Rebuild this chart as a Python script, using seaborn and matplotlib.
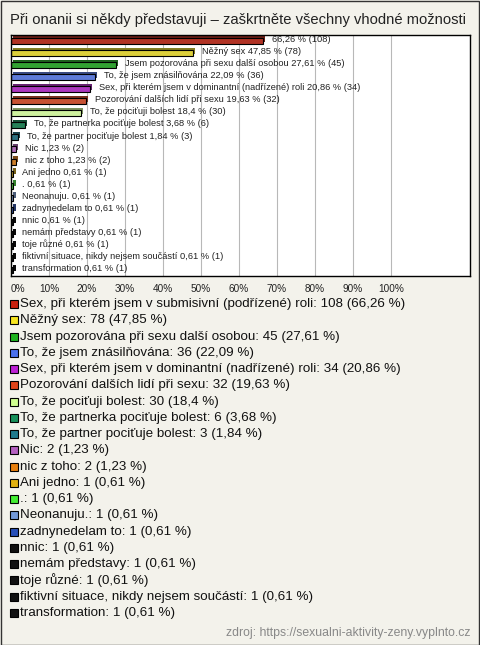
import numpy as np
import pandas as pd
import matplotlib
matplotlib.use("Agg")
import matplotlib.pyplot as plt
import matplotlib.patheffects as pe
import seaborn as sns
from matplotlib.patches import Rectangle
from matplotlib.colors import to_rgb

# data
answers = [
    "Sex, při kterém jsem v submisivní (podřízené) roli",
    "Něžný sex",
    "Jsem pozorována při sexu další osobou",
    "To, že jsem znásilňována",
    "Sex, při kterém jsem v dominantní (nadřízené) roli",
    "Pozorování dalších lidí při sexu",
    "To, že pociťuji bolest",
    "To, že partnerka pociťuje bolest",
    "To, že partner pociťuje bolest",
    "Nic",
    "nic z toho",
    "Ani jedno",
    ".",
    "Neonanuju.",
    "zadnynedelam to",
    "nnic",
    "nemám představy",
    "toje různé",
    "fiktivní situace, nikdy nejsem součástí",
    "transformation",
]
counts = [108, 78, 45, 36, 34, 32, 30, 6, 3, 2, 2, 1, 1, 1, 1, 1, 1, 1, 1, 1]
percents = [66.26, 47.85, 27.61, 22.09, 20.86, 19.63, 18.4, 3.68, 1.84, 1.23,
            1.23, 0.61, 0.61, 0.61, 0.61, 0.61, 0.61, 0.61, 0.61, 0.61]
colors = ["#c8200e", "#f7e520", "#20b420", "#4a70ec", "#bc20d4", "#e0441a",
          "#d0ff90", "#17905a", "#1f7a8e", "#b460c0", "#e8800f", "#e0b010",
          "#44ee33", "#7399d8", "#2850b8", "#111111", "#111111", "#111111",
          "#111111", "#111111"]
xticks = [0, 10, 20, 30, 40, 50, 60, 70, 80, 90, 100]

df = pd.DataFrame({"answer": answers, "pct": percents, "n": counts})

def fmt(p):
    return f"{p:g}".replace(".", ",")

W, H = 480, 645
bg = "#f3f2eb"
sns.set_theme(style="white")
plt.rcParams["font.family"] = ["Liberation Sans", "DejaVu Sans"]

fig = plt.figure(figsize=(W / 100, H / 100), dpi=100, facecolor=bg)
fig.patches.append(Rectangle((0.5 / W, 0.5 / H), 1 - 1.5 / W, 1 - 1.5 / H,
                             transform=fig.transFigure, fill=False,
                             edgecolor="#333333", linewidth=1))

fig.text(10 / W, 1 - 20 / H,
         "Při onanii si někdy představuji – zaškrtněte všechny vhodné možnosti",
         fontsize=10.6, color="#222222", va="center", ha="left")

ax = fig.add_axes([11 / W, 1 - 276 / H, 459 / W, 241 / H])
ax.set_facecolor("white")
sns.barplot(data=df, x="pct", y="answer", hue="answer", palette=colors,
            order=answers, hue_order=answers, legend=False, width=0.5,
            edgecolor="black", linewidth=0.8, ax=ax)

# fake 3D depth like the original
for bar in ax.patches:
    r, g, b = to_rgb(bar.get_facecolor())
    dark = (r * 0.6, g * 0.6, b * 0.6)
    bar.set_path_effects([pe.SimplePatchShadow(offset=(1.6, 1.6), shadow_rgbFace=dark, alpha=1),
                          pe.Normal()])

ax.set_xlim(0, 120.8)
ax.set_ylim(len(answers) - 0.5, -0.5)
ax.set_xticks(xticks)
ax.set_xticklabels([f"{t}%" for t in xticks], fontsize=7.2, color="#222222")
ax.get_xticklabels()[0].set_horizontalalignment("left")
ax.set_yticks([])
ax.set_xlabel("")
ax.set_ylabel("")
ax.tick_params(axis="x", length=0, pad=6)
for t in xticks[1:]:
    ax.axvline(t, color="#b8b8b8", linewidth=0.8, zorder=0)
for s in ax.spines.values():
    s.set_color("black")
    s.set_linewidth(1)

for i, (name, p, n) in enumerate(zip(answers, percents, counts)):
    label = f"{fmt(p)} % ({n})" if i == 0 else f"{name} {fmt(p)} % ({n})"
    ax.annotate(label, (p, i), xytext=(6.5, 1), textcoords="offset points",
                fontsize=6.7, va="center", ha="left", color="#222222")

# legend below the chart
for i, (name, p, n, c) in enumerate(zip(answers, percents, counts, colors)):
    yc = 304 + 16.26 * i
    fig.patches.append(Rectangle((10 / W, 1 - (yc + 4) / H), 8 / W, 8 / H,
                                 transform=fig.transFigure, facecolor=c,
                                 edgecolor="black", linewidth=0.8))
    fig.text(20 / W, 1 - yc / H, f"{name}: {n} ({fmt(p)} %)",
             fontsize=9.6, color="#111111", va="center", ha="left")

fig.text(470 / W, 1 - 633 / H, "zdroj: https://sexualni-aktivity-zeny.vyplnto.cz",
         fontsize=8.8, color="#888888", va="center", ha="right")

fig.savefig("out.png", dpi=100, facecolor=bg)
